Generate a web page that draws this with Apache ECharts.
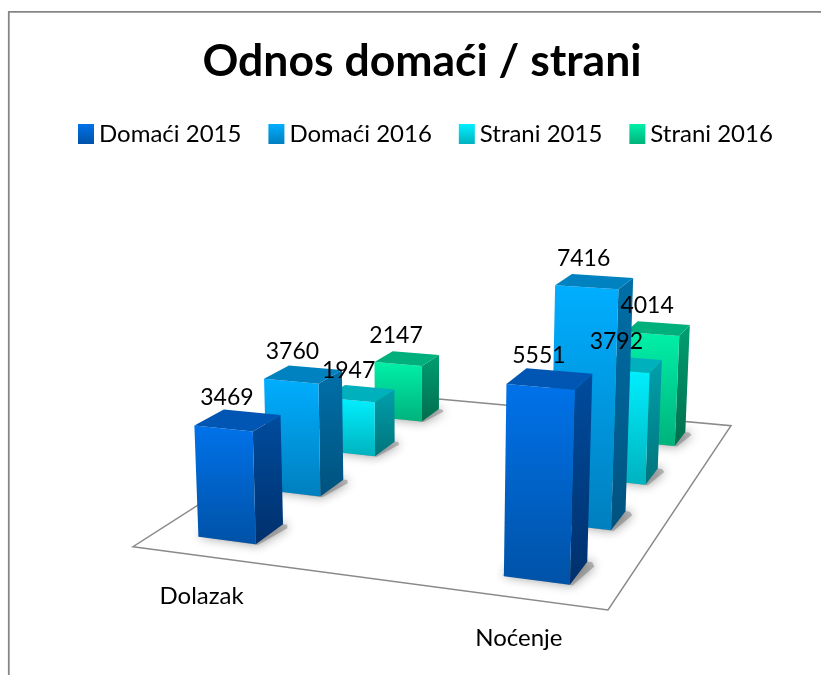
<!DOCTYPE html>
<html>
<head>
<meta charset="utf-8">
<style>html,body{margin:0;padding:0;background:#fff}#c{width:821px;height:675px}</style>
<script src="https://cdn.jsdelivr.net/npm/echarts@6/dist/echarts.min.js"></script>
</head>
<body>
<div id="c"></div>
<script>
const categories = ['Dolazak', 'Noćenje'];
const seriesNames = ['Domaći 2015', 'Domaći 2016', 'Strani 2015', 'Strani 2016'];
const domaci2015 = [3469, 5551];
const domaci2016 = [3760, 7416];
const strani2015 = [1947, 3792];
const strani2016 = [2147, 4014];
const seriesValues = [domaci2015, domaci2016, strani2015, strani2016];

const FONT = 'Lato, Carlito, sans-serif';
const Y_MAX = 8000;
// Camera: screen quad of the floor, vertical vanishing point, px-per-unit
const corners = [[133, 546.7], [608, 610], [731, 425.7], [373, 393]];
const VP = [422, 6700];
const K = 0.03485;
// floor model: where categories sit, bar footprint, depth slots
const U0 = 0.165, USPAN = 0.669, BAR_U = 0.133, SLOT_V = 0.25, FRONT_V = 0.075, BAR_V = 0.10;

const palette = [
  { front: ['#0072EA', '#0052A6'], side: ['#004C9E', '#00306C'], top: '#0056B2' },
  { front: ['#00AEFF', '#007FBE'], side: ['#006FA8', '#00527E'], top: '#0082C0' },
  { front: ['#00F0FF', '#00B2BE'], side: ['#00A0AC', '#00747C'], top: '#00B0BC' },
  { front: ['#00F0A8', '#00B27C'], side: ['#009E70', '#006E4E'], top: '#00B07C' }
];

const H = (function () {
  const [p0, p1, p2, p3] = corners;
  const dx1 = p1[0] - p2[0], dx2 = p3[0] - p2[0], sx = p0[0] - p1[0] + p2[0] - p3[0];
  const dy1 = p1[1] - p2[1], dy2 = p3[1] - p2[1], sy = p0[1] - p1[1] + p2[1] - p3[1];
  const det = dx1 * dy2 - dx2 * dy1;
  const g = (sx * dy2 - dx2 * sy) / det, h = (dx1 * sy - sx * dy1) / det;
  return {
    a: p1[0] - p0[0] + g * p1[0], b: p3[0] - p0[0] + h * p3[0], c: p0[0],
    d: p1[1] - p0[1] + g * p1[1], e: p3[1] - p0[1] + h * p3[1], f: p0[1], g, h
  };
})();
function project(u, v, t) {
  const a = -K / VP[1];
  const W = H.g * u + H.h * v + 1 + a * t;
  return [
    (H.a * u + H.b * v + H.c + a * VP[0] * t) / W,
    (H.d * u + H.e * v + H.f + a * VP[1] * t) / W
  ];
}
function vgrad(c) {
  return new echarts.graphic.LinearGradient(0, 0, 0, 1, [{ offset: 0, color: c[0] }, { offset: 1, color: c[1] }]);
}
function poly(points, fill, z2, extra) {
  return { type: 'polygon', shape: { points }, style: Object.assign({ fill }, extra || {}), z2, silent: true };
}

function barRenderer(s) {
  return function (params, api) {
    const cs = params.coordSys;
    const pt = api.coord([api.value(0), api.value(1)]);
    const uc = U0 + (pt[0] - cs.x) / cs.width * USPAN;
    const t = (cs.y + cs.height - pt[1]) / cs.height * Y_MAX;
    const u0 = uc - BAR_U / 2, u1 = uc + BAR_U / 2;
    const v0 = FRONT_V + s * SLOT_V, v1 = v0 + BAR_V;
    const base = (3 - s) * 10 + 10;
    const c = palette[s];
    const children = [
      poly([project(u0 - 0.004, v0 + 0.003, 0), project(u1 + 0.006, v0 - 0.002, 0), project(u1 + 0.02, v1 - 0.016, 0), project(u1 + 0.01, v1, 0), project(u0, v1, 0)],
        'rgba(110,110,110,0.45)', base, { shadowBlur: 11, shadowColor: 'rgba(20,20,20,0.95)' }),
      poly([project(u1, v0, 0), project(u1, v1, 0), project(u1, v1, t), project(u1, v0, t)], vgrad(c.side), base + 1),
      poly([project(u0, v0, t), project(u1, v0, t), project(u1, v0, 0), project(u0, v0, 0)], vgrad(c.front), base + 2),
      poly([project(u0, v0, t), project(u1, v0, t), project(u1, v1, t), project(u0, v1, t)], c.top, base + 2)
    ];
    const topC = project(uc, v0 + BAR_V / 2, t);
    children.push({
      type: 'text', x: topC[0] - 11, y: topC[1] - 23, z2: 200, silent: true,
      style: { text: String(api.value(1)), fontFamily: FONT, fontSize: 23, fill: '#000', align: 'center', verticalAlign: 'middle' }
    });
    if (s === 0) {
      const lp = project(uc, 0, 0);
      children.push({
        type: 'text', x: lp[0] - 3, y: lp[1] + 40, z2: 200, silent: true,
        style: { text: categories[params.dataIndex], fontFamily: FONT, fontSize: 24, fill: '#000', align: 'center', verticalAlign: 'middle' }
      });
    }
    return { type: 'group', children };
  };
}

const series = seriesNames.map((name, s) => ({
  name, type: 'custom', coordinateSystem: 'cartesian2d', clip: false, silent: true,
  itemStyle: { color: vgrad(palette[s].front) },
  encode: { x: 0, y: 1 },
  data: seriesValues[s].map((v, i) => [i, v]),
  renderItem: barRenderer(s)
}));
series.unshift({
  name: 'floor', type: 'custom', coordinateSystem: 'cartesian2d', clip: false, silent: true,
  data: [[0, 0]],
  renderItem: function () {
    return poly([project(0, 0, 0), project(1, 0, 0), project(1, 1, 0), project(0, 1, 0)], '#fff', 1,
      { stroke: '#8a8a8a', lineWidth: 1.5 });
  }
});

const chart = echarts.init(document.getElementById('c'), null, { renderer: 'canvas' });
chart.setOption({
  animation: false,
  backgroundColor: '#fff',
  title: {
    text: 'Odnos domaći / strani', left: 417, top: 34, textAlign: 'center',
    textStyle: { fontFamily: FONT, fontSize: 44.5, fontWeight: 'bold', color: '#000' }
  },
  legend: {
    left: 73, top: 117, itemWidth: 16, itemHeight: 20, itemGap: 27, icon: 'rect',
    textStyle: { fontFamily: FONT, fontSize: 24, color: '#000' },
    data: seriesNames.map((name, s) => ({ name, itemStyle: { color: vgrad(palette[s].front) } }))
  },
  grid: { left: 100, right: 100, top: 100, bottom: 100 },
  xAxis: { type: 'category', data: categories, boundaryGap: false, show: false },
  yAxis: { type: 'value', min: 0, max: Y_MAX, show: false },
  graphic: [{
    type: 'polyline', silent: true,
    shape: { points: [[8.8, 680], [8.8, 11.8], [826, 11.8]] },
    style: { stroke: '#868686', lineWidth: 1.8, fill: null }
  }],
  series
});
</script>
</body>
</html>
